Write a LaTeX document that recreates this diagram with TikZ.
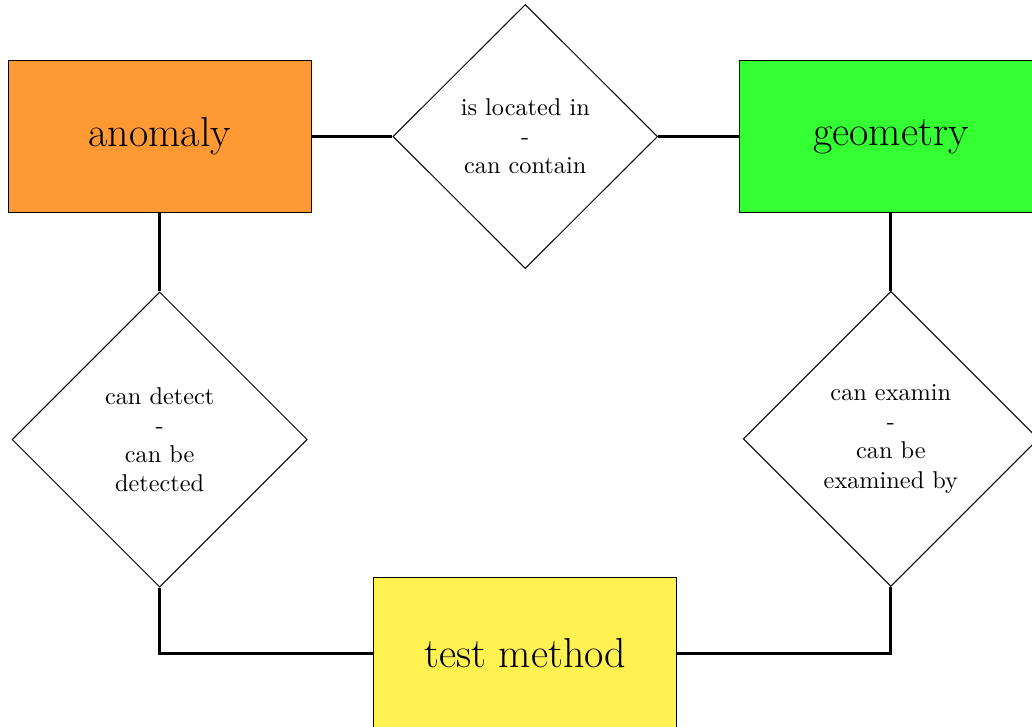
\documentclass[tikz,border=0pt]{standalone}
\usepackage{tikz}
\usetikzlibrary{shapes.geometric, positioning}
\definecolor{anomalyorange}{RGB}{255,153,51}
\definecolor{geometrygreen}{RGB}{51,255,51}
\definecolor{methodyellow}{RGB}{255,241,80}
\tikzset{
entity/.style={draw, minimum width=4.38cm, minimum height=2.19cm, font=\LARGE}, % the boxes
relation/.style={draw, diamond, aspect=1, align=center, inner sep=0pt}, % the diamonds
link/.style={very thick}, % connecting lines
}
\begin{document}
\begin{tikzpicture}
            \useasboundingbox (-2.31,-8.54) rectangle (12.62,1.975);
            \node[entity, fill=anomalyorange] (anomaly) {anomaly};
            \node[relation, minimum width=3.83cm, minimum height=3.82cm, right=1.17cm of anomaly] (locate) {is located in\\-\\can contain};
            \node[entity, fill=geometrygreen, right=1.17cm of locate] (geometry) {geometry};
            \node[relation, minimum width=4.27cm, minimum height=4.27cm, below=1.14cm of anomaly] (detect) {can detect\\-\\can be\\detected};
            \node[relation, minimum width=4.27cm, minimum height=4.27cm, below=1.13cm of geometry] (examine) {can examin\\-\\can be\\examined by};
            \node[entity, fill=methodyellow, below=4.46cm of locate] (method) {test method};
            \draw[link]
                (anomaly) -- (locate)
                (locate) -- (geometry)
                (anomaly) -- (detect)
                (geometry) -- (examine)
                (detect.south) |- (method.west)
                (examine.south) |- (method.east)
                ;
\end{tikzpicture}
\end{document}
